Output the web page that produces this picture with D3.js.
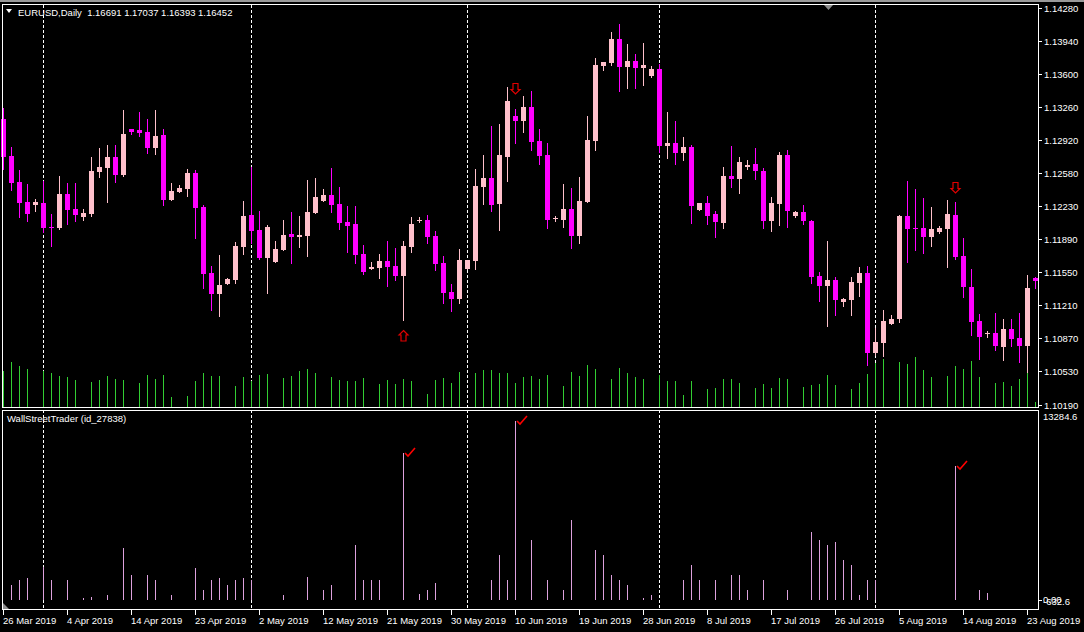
<!DOCTYPE html>
<html><head><meta charset="utf-8">
<script src="https://cdn.jsdelivr.net/npm/d3@7"></script>
<style>
html,body{margin:0;padding:0;background:#000;overflow:hidden}
svg{display:block}
text{font-family:"Liberation Sans",Arial,sans-serif;font-size:9.5px;fill:#fff;white-space:pre}
</style></head><body>
<svg id="c" width="1084" height="632"></svg>
<script>
// ---------------- data ----------------
const headerText = "EURUSD,Daily  1.16691 1.17037 1.16393 1.16452";
const indicatorName = "WallStreetTrader (id_27838)";

const open = [1.13131,1.12750,1.12482,1.12276,1.12246,1.12266,1.12019,1.12009,1.12359,1.12204,
1.12122,1.12153,1.12585,1.12627,1.12740,1.12555,1.13028,1.13018,1.12997,1.12833,
1.12967,1.12297,1.12379,1.12410,1.12575,1.12225,1.11545,1.11329,1.11432,1.11473,
1.11813,1.12143,1.11988,1.11700,1.11658,1.11782,1.11947,1.11916,1.11926,1.12163,
1.12287,1.12349,1.12256,1.12070,1.12050,1.11741,1.11586,1.11597,1.11669,1.11617,
1.11514,1.11813,1.12091,1.12091,1.11926,1.11648,1.11349,1.11277,1.11586,1.11669,
1.12431,1.12524,1.12256,1.12740,1.13162,1.13111,1.13255,1.12905,1.12761,1.12101,
1.12091,1.12204,1.11926,1.12276,1.12905,1.13677,1.13708,1.13955,1.13667,1.13729,
1.13657,1.13574,1.13646,1.12853,1.12884,1.12781,1.12843,1.12194,1.12266,1.12153,
1.12060,1.12544,1.12513,1.12637,1.12668,1.12596,1.12081,1.12256,1.12761,1.12132,
1.12173,1.12081,1.11514,1.11411,1.11473,1.11246,1.11267,1.11442,1.11545,1.10721,
1.10824,1.11020,1.11071,1.12132,1.12009,1.12009,1.11916,1.11967,1.11998,1.12143,
1.11720,1.11401,1.11051,1.10917,1.10927,1.10783,1.10968,1.10876,1.10793,1.11494];
const high = [1.13245,1.12843,1.12606,1.12462,1.12307,1.12493,1.12153,1.12544,1.12472,1.12472,
1.12204,1.12740,1.12833,1.12864,1.12864,1.13224,1.13028,1.13203,1.13131,1.13224,
1.13028,1.12472,1.12452,1.12616,1.12606,1.12246,1.11617,1.11731,1.11494,1.11864,
1.12287,1.12637,1.12184,1.12040,1.11875,1.12091,1.12173,1.12132,1.12503,1.12524,
1.12410,1.12627,1.12431,1.12235,1.12235,1.11834,1.11658,1.11741,1.11875,1.11803,
1.11875,1.12122,1.12122,1.12143,1.11978,1.11720,1.11432,1.11792,1.11679,1.12616,
1.12761,1.13059,1.13080,1.13461,1.13234,1.13368,1.13420,1.13028,1.12884,1.12132,
1.12462,1.12421,1.12534,1.13162,1.13760,1.13718,1.14027,1.14110,1.13904,1.13801,
1.13914,1.13677,1.13698,1.13203,1.13111,1.12946,1.12864,1.12266,1.12338,1.12184,
1.12637,1.12853,1.12740,1.12709,1.12833,1.12627,1.12328,1.12791,1.12812,1.12184,
1.12246,1.12091,1.11555,1.11875,1.11504,1.11288,1.11504,1.11607,1.11617,1.10979,
1.11164,1.11113,1.12143,1.12493,1.12410,1.12318,1.12225,1.12029,1.12297,1.12276,
1.11906,1.11586,1.11123,1.10948,1.11133,1.11071,1.11071,1.11133,1.11525,1.11504];
const low = [1.12616,1.12400,1.12122,1.12081,1.12184,1.11967,1.11823,1.11998,1.12050,1.12081,
1.12091,1.12132,1.12534,1.12276,1.12482,1.12544,1.12977,1.12956,1.12781,1.12771,
1.12246,1.12297,1.12379,1.12338,1.11906,1.11391,1.11164,1.11102,1.11432,1.11442,
1.11741,1.11854,1.11689,1.11339,1.11658,1.11782,1.11648,1.11813,1.11720,1.12163,
1.12287,1.12173,1.11998,1.11761,1.11648,1.11535,1.11586,1.11494,1.11411,1.11473,
1.11061,1.11761,1.12070,1.11854,1.11576,1.11236,1.11154,1.11236,1.11586,1.11586,
1.12256,1.12184,1.11988,1.12493,1.12884,1.12997,1.12812,1.12668,1.12009,1.12081,
1.12019,1.11803,1.11854,1.12276,1.12812,1.13636,1.13688,1.13420,1.13451,1.13451,
1.13482,1.13564,1.12791,1.12730,1.12668,1.12709,1.12060,1.12194,1.12050,1.11916,
1.12009,1.12431,1.12369,1.12616,1.12513,1.12009,1.11978,1.12040,1.12019,1.12122,
1.12050,1.11442,1.11257,1.10999,1.11113,1.11205,1.11113,1.11308,1.10598,1.10701,
1.10690,1.11020,1.11040,1.11658,1.11782,1.11751,1.11823,1.11957,1.11607,1.11689,
1.11298,1.10907,1.10659,1.10886,1.10752,1.10649,1.10793,1.10628,1.10525,1.11391];
const close = [1.12740,1.12472,1.12266,1.12153,1.12276,1.12009,1.12009,1.12359,1.12194,1.12143,
1.12163,1.12596,1.12637,1.12740,1.12555,1.12977,1.12997,1.12987,1.12833,1.12956,
1.12297,1.12390,1.12421,1.12575,1.12215,1.11535,1.11329,1.11422,1.11483,1.11823,
1.12132,1.11978,1.11700,1.12019,1.11792,1.11937,1.11916,1.11937,1.12173,1.12328,
1.12349,1.12246,1.12060,1.12029,1.11731,1.11555,1.11607,1.11669,1.11607,1.11514,
1.11823,1.12050,1.12095,1.11916,1.11638,1.11339,1.11277,1.11679,1.11679,1.12441,
1.12524,1.12246,1.12761,1.13317,1.13111,1.13255,1.12894,1.12750,1.12091,1.12112,
1.12204,1.11926,1.12287,1.12915,1.13688,1.13718,1.13955,1.13667,1.13729,1.13657,
1.13688,1.13646,1.12853,1.12884,1.12781,1.12843,1.12235,1.12266,1.12132,1.12070,
1.12544,1.12513,1.12688,1.12658,1.12596,1.12081,1.12266,1.12761,1.12184,1.12173,
1.12081,1.11504,1.11411,1.11473,1.11267,1.11277,1.11452,1.11545,1.10721,1.10834,
1.11051,1.11071,1.12132,1.11998,1.11998,1.11916,1.11998,1.12009,1.12153,1.11710,
1.11401,1.11040,1.10886,1.10927,1.10793,1.10968,1.10865,1.10793,1.11391,1.11463];
const volume = [3620,4550,4140,3830,50,3620,3410,3100,3000,2690,
50,2480,2690,3100,2790,2690,50,2380,3200,2790,
3200,1030,50,1140,2590,3410,3100,3100,50,2070,
3000,2590,3200,3310,50,2900,3100,3620,3830,3410,
50,3000,2690,2590,2590,2900,50,2280,2690,2280,
2790,2590,50,1340,2690,2900,2380,3520,50,3410,
3720,3720,3410,3410,2380,3000,3100,2800,3200,50,
2100,3500,3100,4200,3800,50,2800,3900,3400,3000,
2800,50,3200,2600,2600,1200,2600,50,1800,1900,
2800,2800,2400,50,1900,2300,1900,2900,2800,50,
2000,2200,2300,3200,2200,50,1800,2400,3300,4400,
4800,50,4500,4300,5000,3700,3000,50,3100,4100,
3800,4600,3000,50,2400,2500,2100,2800,3600,500];

// lower indicator histogram (bar index, value)
const indIndex = [1,2,3,5,6,8,10,11,13,15,16,18,19,21,24,25,26,27,28,29,30,31,35,38,40,41,44,45,46,47,
50,52,53,54,61,62,63,64,66,68,70,71,74,75,76,77,78,80,81,85,86,87,89,91,92,93,95,98,
101,102,103,104,105,106,107,108,109,119,122,123];
const indValue = [1060,1413,1554,2331,1413,1413,141,212,353,3674,1766,1766,1413,353,2261,706,1413,1554,1060,1413,1554,1413,353,1625,706,1060,3886,1413,1413,1413,
10385,424,706,1201,1413,3179,1413,12646,4239,1413,706,5652,3532,3179,1766,1413,1060,141,353,1413,2473,1413,1413,1766,1766,706,1413,706,
4804,4239,3886,4098,2826,2473,353,1413,1413,9467,706,495];
const checkIndex = [50,64,119];

const priceTicks = [1.14280,1.13940,1.13600,1.13260,1.12920,1.12580,1.12230,1.11890,1.11550,1.11210,1.10870,1.10530,1.10190];
const indicatorTicks = [{v:13284.6,t:"13284.6"},{v:0,t:"0.00"},{v:-632.6,t:"-632.6"}];
const dateTickIndex = [0,8,16,24,32,40,48,56,64,72,80,88,96,104,112,120,128];
const dateTickLabels = ["26 Mar 2019","4 Apr 2019","14 Apr 2019","23 Apr 2019","2 May 2019","12 May 2019","21 May 2019","30 May 2019","10 Jun 2019","19 Jun 2019","28 Jun 2019","8 Jul 2019","17 Jul 2019","26 Jul 2019","5 Aug 2019","14 Aug 2019","23 Aug 2019"];
const separatorIndex = [5,31,58,82,109];
const upArrows = [{i:50, price:1.10958}];
const downArrows = [{i:64, price:1.13502},{i:119, price:1.12482}];

// ---------------- chart ----------------
const BULL="#FFC0CB", BEAR="#FF00FF", VOL="#32CD32", IND="#DDA0DD";
const svg = d3.select("#c");
const n = open.length;
const x = d3.scaleLinear().domain([0,129]).range([3.5,1035.5]);
const y = d3.scaleLinear().domain([1.10190,1.14280]).range([404.5,7.5]);
const vy = d3.scaleLinear().domain([0,5000]).range([407,357]);
const iy = d3.scaleLinear().domain([-632.6,13284.6]).range([609,412]);

svg.append("rect").attr("width",1084).attr("height",632).attr("fill","#000");

// separators (both panels)
const sep = svg.append("g");
separatorIndex.forEach(i=>{
  sep.append("line").attr("x1",Math.floor(x(i))+0.5).attr("x2",Math.floor(x(i))+0.5)
    .attr("y1",5).attr("y2",609).attr("stroke","#fff").attr("stroke-dasharray","3,2");
});

// volumes
svg.append("g").selectAll("rect").data(volume).join("rect")
  .attr("x",(d,i)=>Math.floor(x(i))).attr("width",1)
  .attr("y",d=>Math.round(vy(d))).attr("height",d=>Math.max(0,407-Math.round(vy(d))))
  .attr("fill",VOL);

// candles
const cg = svg.append("g");
for(let i=0;i<n;i++){
  const col = close[i]>=open[i]?BULL:BEAR;
  const cx = Math.floor(x(i));
  const yh=Math.round(y(high[i])), yl=Math.round(y(low[i]));
  cg.append("rect").attr("x",cx).attr("width",1).attr("y",yh).attr("height",Math.max(1,yl-yh+1)).attr("fill",col);
  const yt=Math.round(y(Math.max(open[i],close[i]))), yb=Math.round(y(Math.min(open[i],close[i])));
  cg.append("rect").attr("x",cx-2).attr("width",5).attr("y",yt).attr("height",Math.max(1,yb-yt)).attr("fill",col);
}

// signal arrows
function arrowPath(cx,top,down){
  if(down){
    return `M${cx-2.5},${top} L${cx+2.5},${top} L${cx+2.5},${top+6} L${cx+4.5},${top+6} L${cx},${top+10.5} L${cx-4.5},${top+6} L${cx-2.5},${top+6} Z`;
  }
  return `M${cx},${top} L${cx+4.5},${top+4.5} L${cx+2.5},${top+4.5} L${cx+2.5},${top+10.5} L${cx-2.5},${top+10.5} L${cx-2.5},${top+4.5} L${cx-4.5},${top+4.5} Z`;
}
downArrows.forEach(a=>svg.append("path").attr("d",arrowPath(Math.floor(x(a.i))+0.5,Math.round(y(a.price))+0.5,true))
  .attr("fill","none").attr("stroke","#E00000").attr("stroke-width",1.2));
upArrows.forEach(a=>svg.append("path").attr("d",arrowPath(Math.floor(x(a.i))+0.5,Math.round(y(a.price))+0.5,false))
  .attr("fill","none").attr("stroke","#E00000").attr("stroke-width",1.2));

// indicator bars
svg.append("g").selectAll("rect").data(indIndex).join("rect")
  .attr("x",i=>Math.floor(x(i))).attr("width",1)
  .attr("y",(i,k)=>Math.round(iy(indValue[k]))).attr("height",(i,k)=>Math.round(iy(0))-Math.round(iy(indValue[k])))
  .attr("fill",IND);
checkIndex.forEach(i=>{
  const k = indIndex.indexOf(i);
  const cx = Math.floor(x(i)), t = Math.round(iy(indValue[k]));
  svg.append("path").attr("d",`M${cx+2},${t} L${cx+5},${t+3} L${cx+12},${t-5}`)
    .attr("fill","none").attr("stroke","#FF0000").attr("stroke-width",1.6);
});

// panel borders
svg.append("rect").attr("x",2.5).attr("y",4.5).attr("width",1036).attr("height",403).attr("fill","none").attr("stroke","#fff");
svg.append("rect").attr("x",2.5).attr("y",410.5).attr("width",1036).attr("height",199).attr("fill","none").attr("stroke","#fff");
svg.append("rect").attr("x",0).attr("y",0).attr("width",1084).attr("height",2).attr("fill","#9a9a9a");

// chart shift marker & corner marker
svg.append("path").attr("d","M824,5 L833,5 L828.5,10 Z").attr("fill","#8c8c8c");
svg.append("path").attr("d","M3,603 L3,609 L9,609 Z").attr("fill","#8c8c8c");

// header
svg.append("path").attr("d","M6,9 L12,9 L9,13 Z").attr("fill","#fff");
svg.append("text").attr("x",18).attr("y",15.5).text(headerText);
svg.append("text").attr("x",7).attr("y",422).text(indicatorName);

// price axis
const pa = svg.append("g");
priceTicks.forEach(p=>{
  const yy = Math.round(y(p))+0.5;
  pa.append("line").attr("x1",1038).attr("x2",1042).attr("y1",yy).attr("y2",yy).attr("stroke","#fff");
  pa.append("text").attr("x",1044).attr("y",yy+3.4).text(d3.format(".5f")(p));
});
// indicator axis (the reference draws "0.00" and "-632.6" on top of each other)
indicatorTicks.forEach((t,k)=>{
  const yy = Math.round(iy(t.v))+0.5;
  const ty = k===0 ? 419.5 : (k===1 ? 602.5 : 605);
  if(k===1) pa.append("line").attr("x1",1038).attr("x2",1042).attr("y1",yy).attr("y2",yy).attr("stroke","#fff");
  pa.append("text").attr("x",1043).attr("y",ty).text(t.t);
});

// date axis
const da = svg.append("g");
dateTickIndex.forEach((i,k)=>{
  const xx = Math.floor(x(i))+0.5;
  da.append("line").attr("x1",xx).attr("x2",xx).attr("y1",610).attr("y2",615).attr("stroke","#fff");
  da.append("text").attr("x",xx-0.5).attr("y",624).text(dateTickLabels[k]);
});
</script>
</body></html>
